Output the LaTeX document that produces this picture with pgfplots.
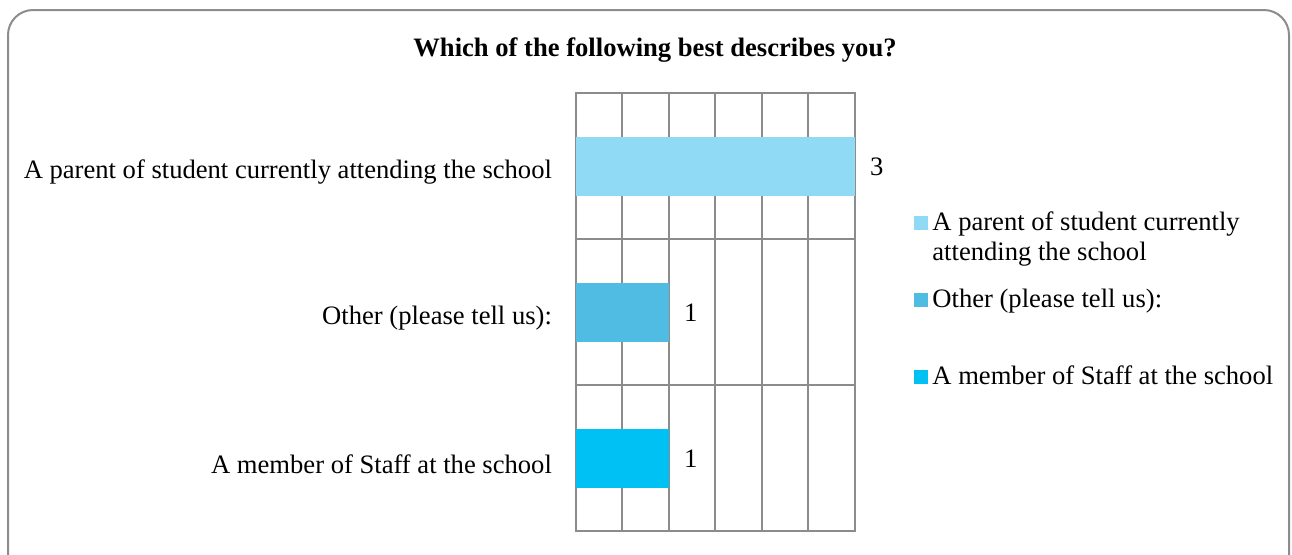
\documentclass[border=0pt]{standalone}
\usepackage{fontspec}
\setmainfont{Liberation Serif}
\usepackage{pgfplots}
\pgfplotsset{compat=1.18}
\definecolor{cA}{RGB}{145,218,246}
\definecolor{cB}{RGB}{80,188,228}
\definecolor{cC}{RGB}{0,193,243}
\definecolor{gridgray}{RGB}{140,140,140}
\newcommand{\fs}{\fontsize{13.3}{15.3}\selectfont}
\pgfplotsset{sqlegend/.style={legend image code/.code={\draw[##1,draw=none] (0pt,4pt) rectangle (7pt,11pt);}}}
\begin{document}
\begin{tikzpicture}
\useasboundingbox (0,0) rectangle (646pt,-277pt);
\begin{scope}
\clip (0,0) rectangle (646pt,-277pt);
\draw[gridgray, line width=1pt, rounded corners=12.5pt] (4pt,-5pt) rectangle (644.5pt,-300pt);
\end{scope}
\node[font=\fs\bfseries] at (327.5pt,-25pt) {Which of the following best describes you?};
\begin{axis}[
  at={(288pt,-265.5pt)}, anchor=south west,
  width=139.5pt, height=219pt, scale only axis,
  xbar,
  xmin=0, xmax=3, ymin=-0.5, ymax=2.5,
  xtick={0,0.5,...,3}, xticklabels={},
  ytick={0,1,2},
  yticklabels={A member of Staff at the school, Other (please tell us):, A parent of student currently attending the school},
  minor ytick={0.5,1.5},
  xmajorgrids, yminorgrids,
  grid style={gridgray, line width=1pt},
  minor grid style={gridgray, line width=1pt},
  axis line style={gridgray, line width=1pt},
  major tick length=0pt, minor tick length=0pt,
  tick style={draw=none},
  yticklabel style={font=\fs, xshift=-8.5pt, yshift=-3pt},
  nodes near coords,
  nodes near coords align={horizontal},
  every node near coord/.append style={font=\fs, xshift=4pt, yshift=-0.5pt, black},
  /pgf/number format/assume math mode=true,
  legend style={draw=none, fill=none, at={(1.19,0.749)}, anchor=north west,
    font=\fs, nodes={align=left}, row sep=8.5pt},
  legend cell align=left,
]
\addplot[fill=cA, draw=none, bar width=29.5pt, bar shift=0pt, sqlegend] coordinates {(3,2)};
\addlegendentry{A parent of student currently\\attending the school}
\addplot[fill=cB, draw=none, bar width=29.5pt, bar shift=0pt, sqlegend] coordinates {(1,1)};
\addlegendentry{Other (please tell us):\\\strut}
\addplot[fill=cC, draw=none, bar width=29.5pt, bar shift=0pt, sqlegend] coordinates {(1,0)};
\addlegendentry{A member of Staff at the school\\\strut}
\end{axis}
\end{tikzpicture}
\end{document}
